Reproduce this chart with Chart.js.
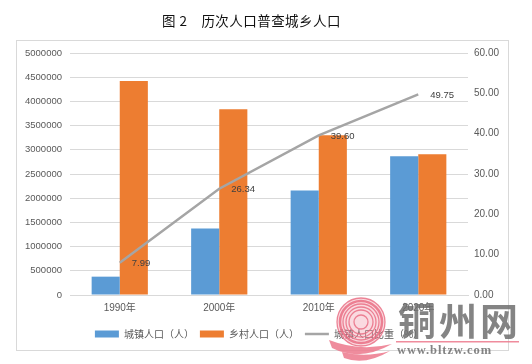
<!DOCTYPE html>
<html>
<head>
<meta charset="utf-8">
<script src="https://cdn.jsdelivr.net/npm/chart.js@4"></script>
<style>
  html, body { margin: 0; padding: 0; background: #fff; }
  #wrap { position: relative; width: 532px; height: 364px; }
  #title { position: absolute; left: 0; top: 11px; width: 503px; text-align: center; white-space: pre;
           font: 400 13.5px "Noto Sans CJK SC", sans-serif; letter-spacing: 0.45px; line-height: 18px; color: #111; }
</style>
</head>
<body>
<div id="wrap">
  <div id="title">图 2　历次人口普查城乡人口</div>
  <canvas id="chart" width="532" height="364"></canvas>
</div>
<script>
const years = ['1990年', '2000年', '2010年', '2020年'];
const urban = [379000, 1374000, 2160000, 2865000];
const rural = [4420000, 3840000, 3300000, 2907000];
const urbanShare = [7.99, 26.34, 39.60, 49.75];

const baseFont = '"Liberation Sans", "Noto Sans CJK SC", sans-serif';
Chart.defaults.font.family = baseFont;
Chart.defaults.font.size = 9.5;
Chart.defaults.color = '#595959';

const frame = {
    id: 'frame',
    beforeDraw(chart) {
        const { ctx } = chart;
        ctx.save();
        ctx.strokeStyle = '#d9d9d9';
        ctx.lineWidth = 1;
        ctx.strokeRect(16.5, 40.5, 492, 310);
        ctx.restore();
    }
};

const shareLabels = {
    id: 'shareLabels',
    afterDatasetsDraw(chart) {
        const { ctx } = chart;
        const pts = chart.getDatasetMeta(2).data;
        ctx.save();
        ctx.font = '9.5px ' + baseFont;
        ctx.fillStyle = '#404040';
        ctx.textAlign = 'left';
        ctx.textBaseline = 'middle';
        pts.forEach((p, i) => {
            ctx.fillText(urbanShare[i].toFixed(2), p.x + 12, p.y + 1);
        });
        ctx.restore();
    }
};

// site stamp that sits over the lower right corner of the picture
const stamp = {
    id: 'stamp',
    afterDraw(chart) {
        const { ctx } = chart;
        const cx = 361, cy = 322;
        ctx.save();
        ctx.fillStyle = 'rgba(240,150,165,0.35)';
        ctx.beginPath();
        ctx.arc(cx, cy, 24, 0, Math.PI * 2);
        ctx.fill();
        ctx.strokeStyle = 'rgba(232,105,128,0.8)';
        [24, 21, 18, 15, 12, 7].forEach((r, i) => {
            ctx.lineWidth = i === 1 ? 2.5 : 1.3;
            ctx.beginPath();
            ctx.arc(cx, cy, r, 0, Math.PI * 2);
            ctx.stroke();
        });
        ctx.fillStyle = 'rgba(236,120,140,0.85)';
        ctx.beginPath();
        ctx.moveTo(329, 340);
        ctx.quadraticCurveTo(360, 352, 392, 344);
        ctx.quadraticCurveTo(360, 362, 332, 348);
        ctx.closePath();
        ctx.fill();
        ctx.beginPath();
        ctx.moveTo(342, 352);
        ctx.quadraticCurveTo(365, 358, 390, 351);
        ctx.quadraticCurveTo(365, 366, 344, 358);
        ctx.closePath();
        ctx.fill();
        ctx.fillRect(396, 341, 123, 1.5);
        ctx.fillStyle = 'rgba(110,110,110,0.85)';
        ctx.textBaseline = 'alphabetic';
        ctx.font = '700 38px "Noto Sans CJK SC", sans-serif';
        ctx.letterSpacing = '3px';
        ctx.fillText('铜州网', 398, 335);
        ctx.font = '700 12.5px "Liberation Serif", serif';
        ctx.letterSpacing = '0.9px';
        ctx.fillText('www.bltzw.com', 397, 354);
        ctx.restore();
    }
};

new Chart(document.getElementById('chart'), {
    data: {
        labels: years,
        datasets: [
            { type: 'bar', label: '城镇人口（人）', data: urban, backgroundColor: '#5b9bd5', yAxisID: 'y', order: 2, pointStyle: 'rect' },
            { type: 'bar', label: '乡村人口（人）', data: rural, backgroundColor: '#ed7d31', yAxisID: 'y', order: 2, pointStyle: 'rect' },
            { type: 'line', label: '城镇人口比重（%）', data: urbanShare, borderColor: '#a5a5a5', backgroundColor: '#a5a5a5',
              borderWidth: 2.5, pointRadius: 0, tension: 0, yAxisID: 'y1', order: 1, pointStyle: 'line' }
        ]
    },
    options: {
        responsive: false,
        animation: false,
        layout: { padding: { left: 16, right: 30, top: 53, bottom: 15 } },
        datasets: { bar: { barPercentage: 1, categoryPercentage: 0.565 } },
        plugins: {
            title: { display: false },
            tooltip: { enabled: false },
            legend: {
                position: 'bottom',
                labels: {
                    usePointStyle: true,
                    pointStyleWidth: 24,
                    boxHeight: 7,
                    padding: 6,
                    sort: (a, b) => a.datasetIndex - b.datasetIndex,
                    font: { size: 10, family: '"Noto Sans CJK SC", sans-serif' },
                    color: '#595959'
                }
            }
        },
        scales: {
            x: {
                grid: { drawOnChartArea: false, drawTicks: false },
                border: { color: '#d9d9d9' },
                ticks: { padding: 7, font: { size: 10 } },
                afterFit(s) { s.height = 28; }
            },
            y: {
                position: 'left',
                min: 0,
                max: 5000000,
                grid: { color: '#d9d9d9', drawTicks: false },
                border: { display: false },
                ticks: { stepSize: 500000, padding: 8, callback: v => String(v) },
                afterFit(s) { s.width = 54; }
            },
            y1: {
                position: 'right',
                min: 0,
                max: 60,
                grid: { drawOnChartArea: false, drawTicks: false },
                border: { display: false },
                ticks: { stepSize: 10, padding: 6, font: { size: 10 }, callback: v => v.toFixed(2) },
                afterFit(s) { s.width = 34; }
            }
        }
    },
    plugins: [frame, shareLabels, stamp]
});
</script>
</body>
</html>
